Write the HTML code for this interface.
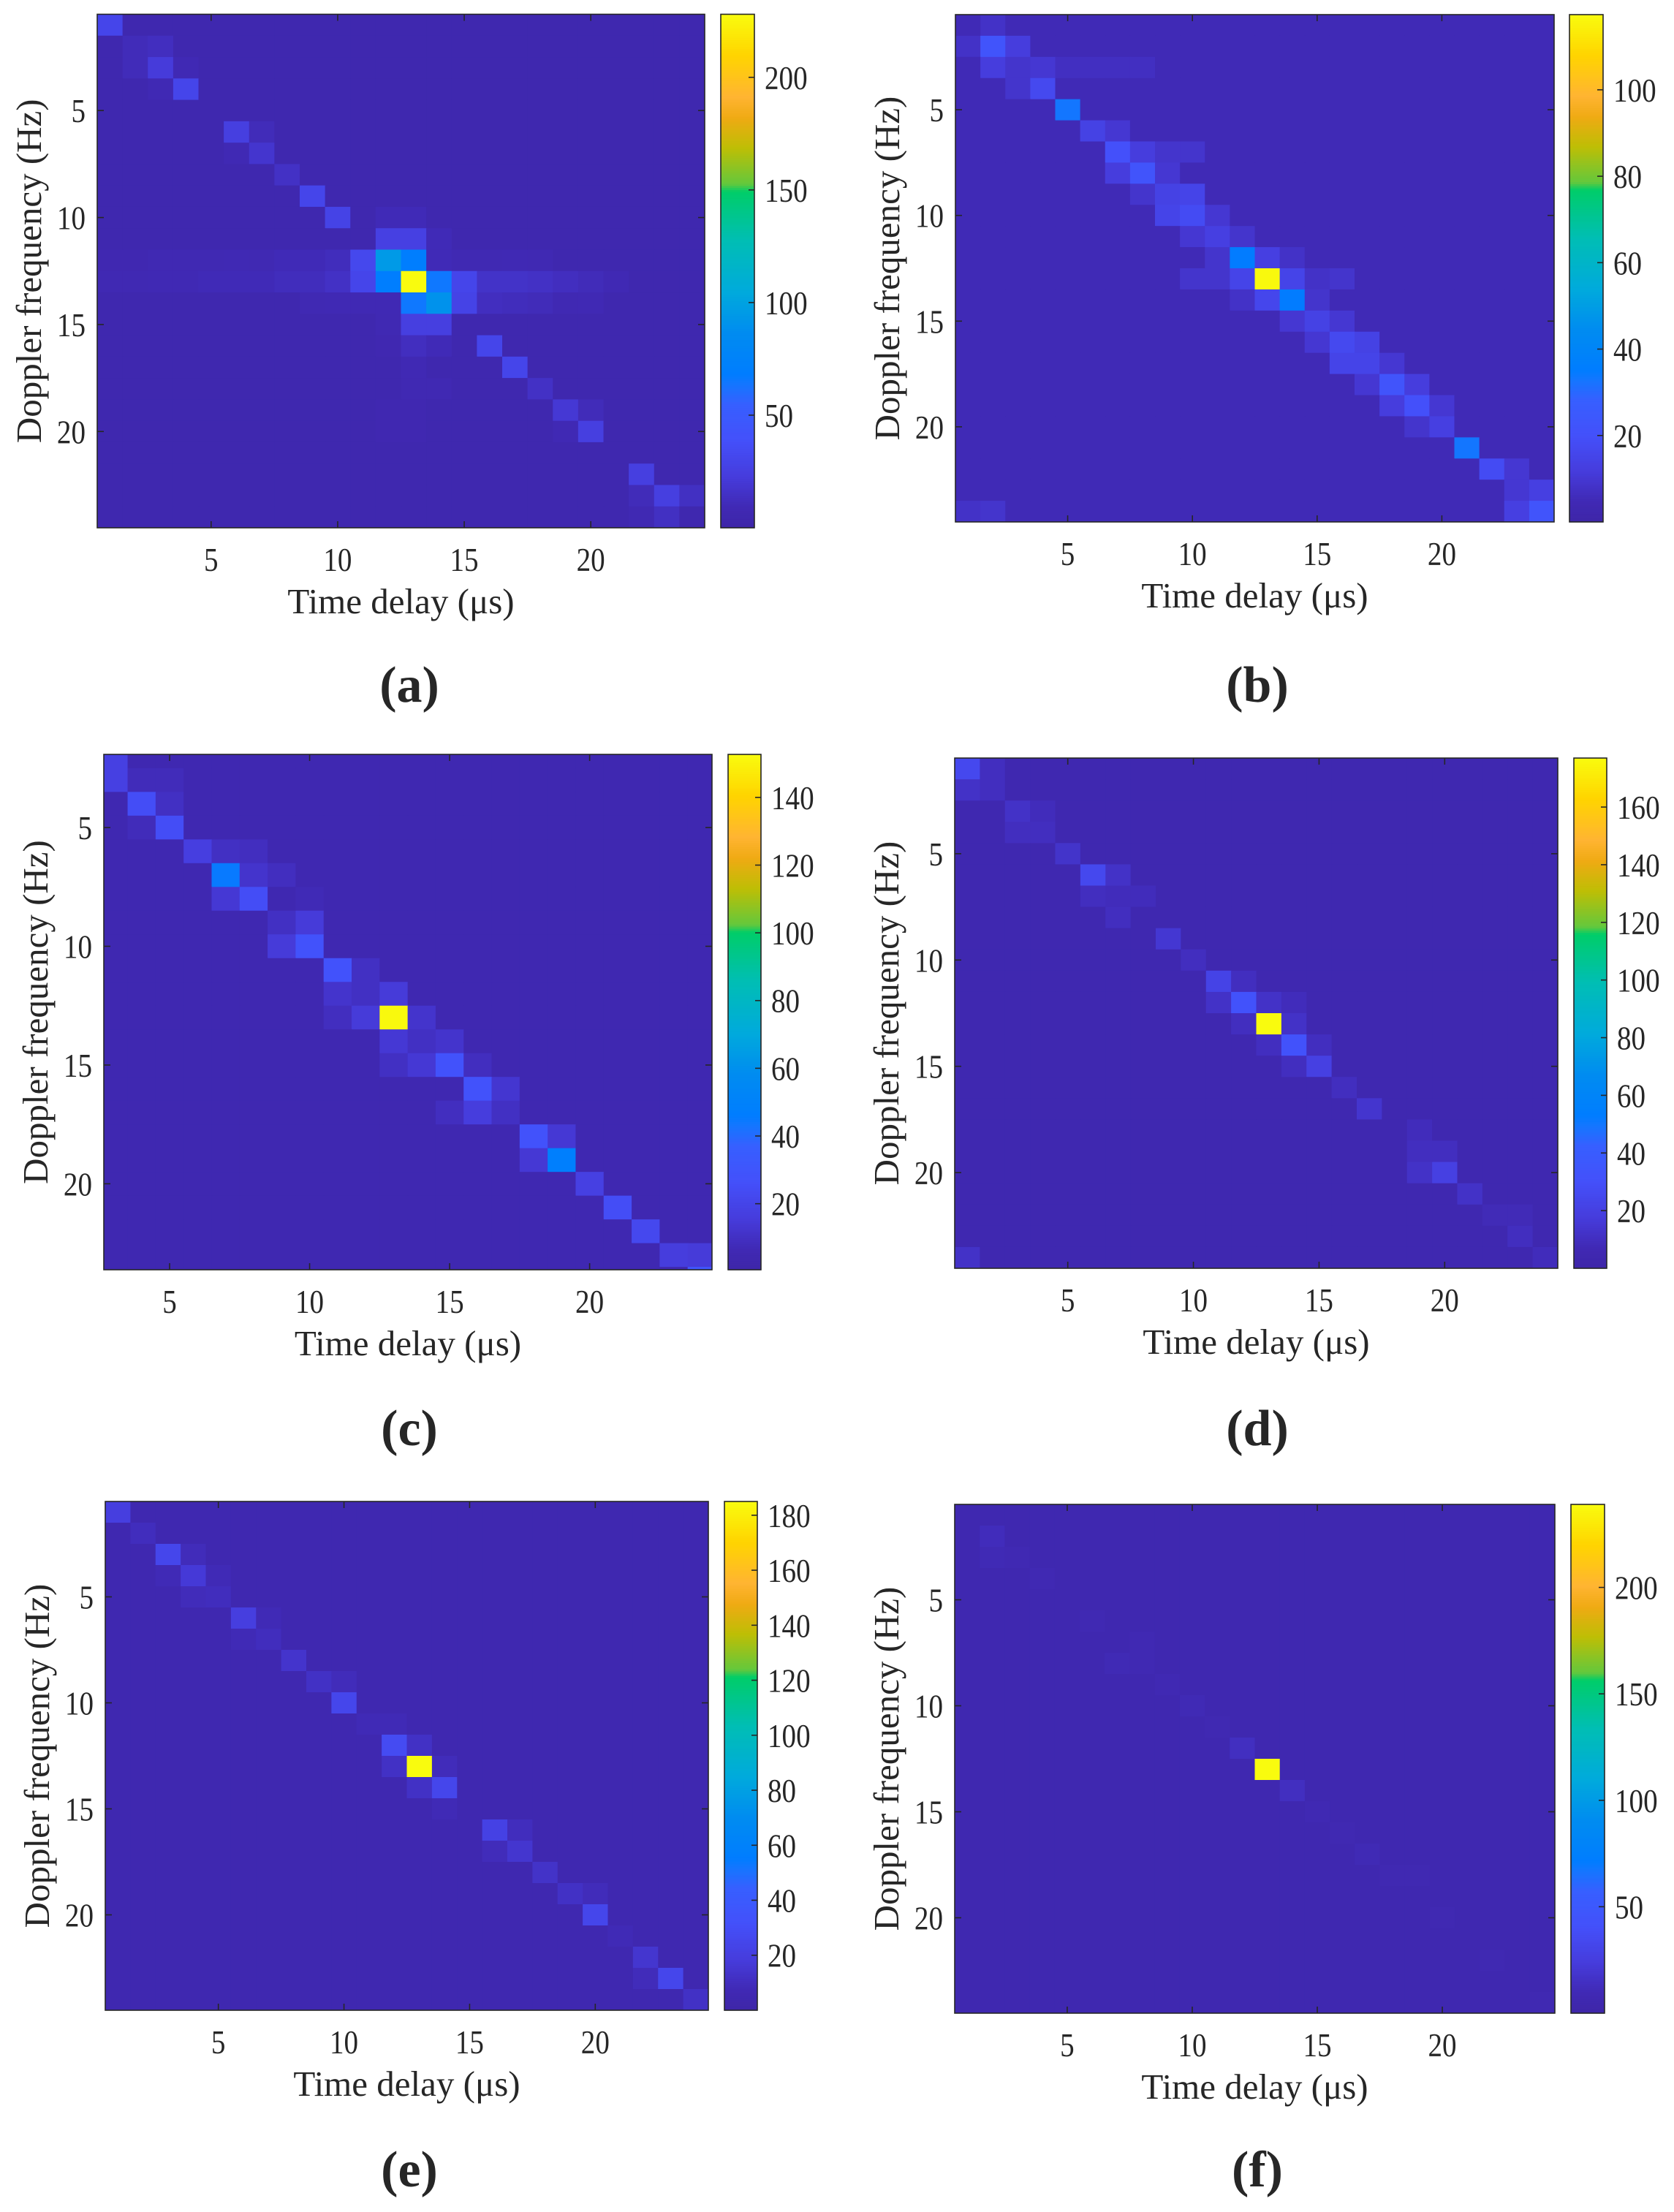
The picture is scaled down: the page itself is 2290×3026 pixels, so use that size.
<!DOCTYPE html>
<html><head><meta charset="utf-8"><style>
html,body{margin:0;padding:0;background:#fff;}
svg{display:block;}
text{font-family:"Liberation Serif",serif;fill:#262626;}
</style></head>
<body>
<svg id="fig" width="2290" height="3026" viewBox="0 0 2290 3026" xmlns="http://www.w3.org/2000/svg"></svg>
<script>
// ---------- data ----------
const xTicks = [5, 10, 15, 20];
const yTicks = [5, 10, 15, 20];
const rowsFull = [1,2,3,4,5,6,7,8,9,10,11,12,13,14,15,16,17,18,19,20,21,22,23,24];
const colsFull = [1,2,3,4,5,6,7,8,9,10,11,12,13,14,15,16,17,18,19,20,21,22,23,24];
const rowsC = [2,3,4,5,6,7,8,9,10,11,12,13,14,15,16,17,18,19,20,21,22,23,24];
const colsC = [3,4,5,6,7,8,9,10,11,12,13,14,15,16,17,18,19,20,21,22,23,24];

const bgA = 5, climA = [0, 228], cbTicksA = [50, 100, 150, 200];
const cellsA = [[1,1,30],[2,2,11],[3,2,13],[2,3,11],[3,3,22],[4,3,9],[3,4,9],[4,4,30],
 [6,6,25],[7,6,11],[6,7,9],[7,7,18],[8,8,15],[9,9,30],[10,10,28],[12,10,10],[13,10,10],
 [12,11,26],[13,11,26],[14,11,10],
 [1,12,7],[2,12,7],[3,12,8],[4,12,8],[5,12,8],[6,12,9],[7,12,8],[8,12,10],[9,12,10],[10,12,12],[11,12,32],[12,12,95],[13,12,70],[14,12,10],[15,12,8],[16,12,8],[17,12,9],[18,12,8],
 [1,13,8],[2,13,8],[3,13,9],[4,13,9],[5,13,10],[6,13,10],[7,13,10],[8,13,12],[9,13,12],[10,13,15],[11,13,30],[12,13,70],[13,13,228],[14,13,65],[15,13,30],[16,13,16],[17,13,16],[18,13,15],[19,13,13],[20,13,11],[21,13,9],
 [9,14,8],[10,14,9],[11,14,9],[12,14,9],[13,14,65],[14,14,90],[15,14,28],[16,14,13],[17,14,12],[18,14,11],[19,14,8],[20,14,9],
 [12,15,8],[13,15,25],[14,15,25],[12,16,7],[13,16,13],[14,16,10],[16,16,30],[17,17,30],[13,17,9],[13,18,8],[14,18,8],[18,18,15],
 [19,19,20],[20,19,11],[19,20,9],[20,20,25],[12,19,7],[13,19,7],[12,20,7],[13,20,7],
 [22,22,25],[22,23,11],[23,23,25],[24,23,14],[23,24,14],[22,24,8]];

const bgB = 5, climB = [0, 117.4], cbTicksB = [20, 40, 60, 80, 100];
const cellsB = [[2,1,8],[1,2,8],[2,2,22],[3,2,12],[2,3,12],[3,3,9],[4,3,10],[5,3,7],[6,3,7],[7,3,7],[8,3,7],
 [3,4,9],[4,4,17],[5,5,33],[6,6,14],[7,6,10],[7,7,20],[8,7,12],[9,7,9],[10,7,9],[7,8,12],[8,8,22],[9,8,10],
 [8,9,9],[9,9,14],[10,9,15],[9,10,15],[10,10,18],[11,10,10],[10,11,10],[11,11,13],[12,11,9],
 [11,12,9],[12,12,35],[13,12,13],[14,12,8],[10,13,9],[11,13,9],[12,13,15],[13,13,117],[14,13,15],[15,13,8],[16,13,9],
 [12,14,8],[13,14,16],[14,14,35],[15,14,9],[14,15,10],[15,15,14],[16,15,10],[15,16,10],[16,16,17],[17,16,14],
 [16,17,15],[17,17,15],[18,17,10],[17,18,10],[18,18,22],[19,18,12],[18,19,12],[19,19,20],[20,19,10],
 [19,20,9],[20,20,13],[21,21,33],[22,22,18],[23,22,10],[23,23,10],[24,23,13],[1,24,8],[2,24,9],[23,24,13],[24,24,22]];

const bgC = 5, climC = [0.5, 152.7], cbTicksC = [20, 40, 60, 80, 100, 120, 140];
const cellsC = [[3,2,18],[3,3,18],[4,3,8],[5,3,8],[4,4,25],[5,4,10],[4,5,8],[5,5,25],[6,6,17],[7,6,10],[8,6,9],
 [7,7,45],[8,7,12],[9,7,9],[7,8,14],[8,8,25],[10,8,7],[9,9,10],[10,9,15],[9,10,15],[10,10,28],[11,11,28],[12,11,10],
 [11,12,12],[12,12,10],[13,12,15],[11,13,9],[12,13,15],[13,13,152],[14,13,12],[13,14,14],[14,14,10],[15,14,12],
 [13,15,10],[14,15,14],[15,15,28],[16,15,9],[16,16,28],[17,16,13],[15,17,9],[16,17,16],[17,17,10],
 [18,18,28],[19,18,14],[18,19,14],[19,19,48],[20,20,18],[21,21,25],[22,22,22],[23,23,16],[24,23,15],[24,24,30]];

const bgD = 5, climD = [0, 177], cbTicksD = [20, 40, 60, 80, 100, 120, 140, 160];
const cellsD = [[1,1,25],[2,1,10],[1,2,12],[2,2,10],[3,3,12],[4,3,9],[3,4,10],[4,4,10],[5,5,13],[6,6,25],[7,6,12],
 [6,7,10],[7,7,9],[8,7,9],[7,8,10],[9,9,15],[10,10,10],[11,11,22],[12,11,10],[11,12,12],[12,12,32],[13,12,12],[14,12,9],
 [12,13,10],[13,13,177],[14,13,12],[13,14,10],[14,14,32],[15,14,10],[14,15,10],[15,15,20],[16,16,10],[17,17,14],
 [19,18,9],[19,19,10],[20,19,10],[19,20,12],[20,20,20],[21,21,12],[22,22,8],[23,22,8],[23,23,10],[1,24,12],[24,24,9]];

const bgE = 5, climE = [0, 185], cbTicksE = [20, 40, 60, 80, 100, 120, 140, 160, 180];
const cellsE = [[1,1,20],[2,2,10],[3,3,25],[4,3,9],[3,4,8],[4,4,17],[5,4,8],[4,5,9],[5,5,10],[6,6,20],[7,6,8],
 [6,7,8],[7,7,10],[8,8,14],[9,9,12],[10,9,9],[10,10,25],[11,11,8],[12,11,8],[12,12,28],[13,12,12],
 [12,13,12],[13,13,185],[14,13,9],[13,14,12],[14,14,25],[14,15,8],[16,16,22],[17,16,10],[16,17,9],[17,17,15],
 [18,18,13],[19,19,12],[20,19,9],[20,20,25],[21,21,8],[22,22,15],[22,23,9],[23,23,25],[24,24,12]];

const bgF = 6, climF = [0, 239], cbTicksF = [50, 100, 150, 200];
const cellsF = [[2,2,12],[2,3,10],[3,3,9],[4,4,9],[6,6,9],[8,7,9],[7,8,10],[8,8,9],[9,9,9],[10,10,10],[11,11,8],
 [12,12,14],[13,13,239],[14,14,14],[15,15,9],[16,16,8],[17,17,10],[18,18,8],[19,18,8],[20,20,8],[22,22,8],[24,24,8]];

// ---------- colormap ----------
const cmap = [[0,62,38,168],[0.04,64,41,180],[0.10,70,60,220],[0.17,68,80,250],[0.24,55,95,255],[0.28,20,118,255],
 [0.30,0,125,255],[0.38,0,140,240],[0.46,0,170,220],[0.56,0,190,180],[0.655,0,205,105],[0.67,100,200,60],
 [0.74,190,190,5],[0.80,240,170,20],[0.84,255,180,50],[0.92,255,212,0],[1.0,249,251,14]];
function color(t){
  t=Math.max(0,Math.min(1,t));
  for(let i=1;i<cmap.length;i++){
    if(t<=cmap[i][0]){const a=cmap[i-1],b=cmap[i];const f=(t-a[0])/(b[0]-a[0]);
      return 'rgb('+[1,2,3].map(k=>Math.round(a[k]+(b[k]-a[k])*f)).join(',')+')';}
  }
  return 'rgb(249,251,14)';
}

const NS='http://www.w3.org/2000/svg';
const svg=document.getElementById('fig');
function el(tag,attrs,parent){const e=document.createElementNS(NS,tag);for(const k in attrs)e.setAttribute(k,attrs[k]);(parent||svg).appendChild(e);return e;}

const panels=[
 {id:'a',L:133,T:19.5,R:964,B:722,xl:[0.5,24.5],yl:[0.5,24.5],cbL:986,cbR:1032,clim:climA,cbt:cbTicksA,bg:bgA,cells:cellsA,rows:rowsFull,cols:colsFull,lx:560,ly:960},
 {id:'b',L:1307,T:20,R:2126,B:714,xl:[0.5,24.5],yl:[0.5,24.5],cbL:2147,cbR:2193,clim:climB,cbt:cbTicksB,bg:bgB,cells:cellsB,rows:rowsFull,cols:colsFull,lx:1720,ly:960},
 {id:'c',L:142,T:1032,R:974,B:1737,xl:[2.65,24.37],yl:[1.92,23.62],cbL:996,cbR:1041,clim:climC,cbt:cbTicksC,bg:bgC,cells:cellsC,rows:rowsC,cols:colsC,lx:560,ly:1977},
 {id:'d',L:1306,T:1037,R:2131,B:1735,xl:[0.5,24.5],yl:[0.5,24.5],cbL:2153,cbR:2198,clim:climD,cbt:cbTicksD,bg:bgD,cells:cellsD,rows:rowsFull,cols:colsFull,lx:1720,ly:1977},
 {id:'e',L:144,T:2054,R:969,B:2750,xl:[0.5,24.5],yl:[0.5,24.5],cbL:991,cbR:1036,clim:climE,cbt:cbTicksE,bg:bgE,cells:cellsE,rows:rowsFull,cols:colsFull,lx:560,ly:2991},
 {id:'f',L:1306,T:2058,R:2127,B:2754,xl:[0.5,24.5],yl:[0.5,24.5],cbL:2149,cbR:2195,clim:climF,cbt:cbTicksF,bg:bgF,cells:cellsF,rows:rowsFull,cols:colsFull,lx:1720,ly:2991}
];

const defs=el('defs',{});
panels.forEach(p=>{
  const g=el('g',{});
  
  
  const sx=v=>p.L+(v-p.xl[0])/(p.xl[1]-p.xl[0])*(p.R-p.L);
  const sy=v=>p.T+(v-p.yl[0])/(p.yl[1]-p.yl[0])*(p.B-p.T);
  const cc=v=>color((v-p.clim[0])/(p.clim[1]-p.clim[0]));
  const cp=el('clipPath',{id:'clip-'+p.id},defs);
  el('rect',{x:p.L,y:p.T,width:p.R-p.L,height:p.B-p.T},cp);
  const hm=el('g',{'clip-path':'url(#clip-'+p.id+')'},g);
  
  
  const vals={};
  p.cells.forEach(c=>{vals[c[0]+'_'+c[1]]=c[2];});
  p.rows.forEach(r=>{p.cols.forEach(c=>{
    const v=(vals[c+'_'+r]!==undefined)?vals[c+'_'+r]:p.bg;
    const x0=sx(c-0.5),x1=sx(c+0.5),y0=sy(r-0.5),y1=sy(r+0.5);
    const rc=el('rect',{x:x0.toFixed(2),y:y0.toFixed(2),width:(x1-x0+0.6).toFixed(2),height:(y1-y0+0.6).toFixed(2),fill:cc(v)},hm);
    
    
  });});
  const fr=el('rect',{x:p.L,y:p.T,width:p.R-p.L,height:p.B-p.T,fill:'none',stroke:'#262626','stroke-width':1.6},g);
  
  
  xTicks.forEach(t=>{
    const x=sx(t);
    el('line',{x1:x,y1:p.B,x2:x,y2:p.B-9,stroke:'#262626','stroke-width':1.6},g);
    el('line',{x1:x,y1:p.T,x2:x,y2:p.T+9,stroke:'#262626','stroke-width':1.6},g);
    const tx=el('text',{x:x,y:p.B+59,'font-size':46,'text-anchor':'middle',transform:'translate('+x+',0) scale(0.85,1) translate('+(-x)+',0)'},g);
    tx.textContent=t;
    
    
  });
  yTicks.forEach(t=>{
    const y=sy(t);
    el('line',{x1:p.L,y1:y,x2:p.L+9,y2:y,stroke:'#262626','stroke-width':1.6},g);
    el('line',{x1:p.R,y1:y,x2:p.R-9,y2:y,stroke:'#262626','stroke-width':1.6},g);
    const tx=el('text',{x:p.L-16,y:y+16,'font-size':46,'text-anchor':'end',transform:'translate('+(p.L-16)+',0) scale(0.85,1) translate('+(-(p.L-16))+',0)'},g);
    tx.textContent=t;
    
    
  });
  const xl=el('text',{x:(p.L+p.R)/2,y:p.B+117,'font-size':49,'text-anchor':'middle'},g);
  xl.textContent='Time delay (\u03bcs)';
  
  
  const yc=(p.T+p.B)/2, yx=p.L-93;
  const yl=el('text',{x:yx,y:yc+16,'font-size':49,'text-anchor':'middle',transform:'rotate(-90 '+yx+' '+yc+')'},g);
  yl.textContent='Doppler frequency (Hz)';
  
  
  const cb=el('g',{},g);
  
  
  const N=240, h=(p.B-p.T)/N;
  for(let i=0;i<N;i++){
    el('rect',{x:p.cbL,y:(p.B-(i+1)*h).toFixed(2),width:p.cbR-p.cbL,height:(h+0.6).toFixed(2),fill:color((i+0.5)/N)},cb);
  }
  el('rect',{x:p.cbL,y:p.T,width:p.cbR-p.cbL,height:p.B-p.T,fill:'none',stroke:'#262626','stroke-width':1.6},cb);
  p.cbt.forEach(t=>{
    const y=p.B-(t-p.clim[0])/(p.clim[1]-p.clim[0])*(p.B-p.T);
    el('line',{x1:p.cbR,y1:y,x2:p.cbR-8,y2:y,stroke:'#262626','stroke-width':1.6},cb);
    const tx=el('text',{x:p.cbR+14,y:y+16,'font-size':46,'text-anchor':'start',transform:'translate('+(p.cbR+14)+',0) scale(0.85,1) translate('+(-(p.cbR+14))+',0)'},cb);
    tx.textContent=t;
    
    
  });
  const lb=el('text',{x:p.lx,y:p.ly,'font-size':70,'text-anchor':'middle','font-weight':'bold'},g);
  lb.textContent='('+p.id+')';
  
  
});
</script>
</body></html>
